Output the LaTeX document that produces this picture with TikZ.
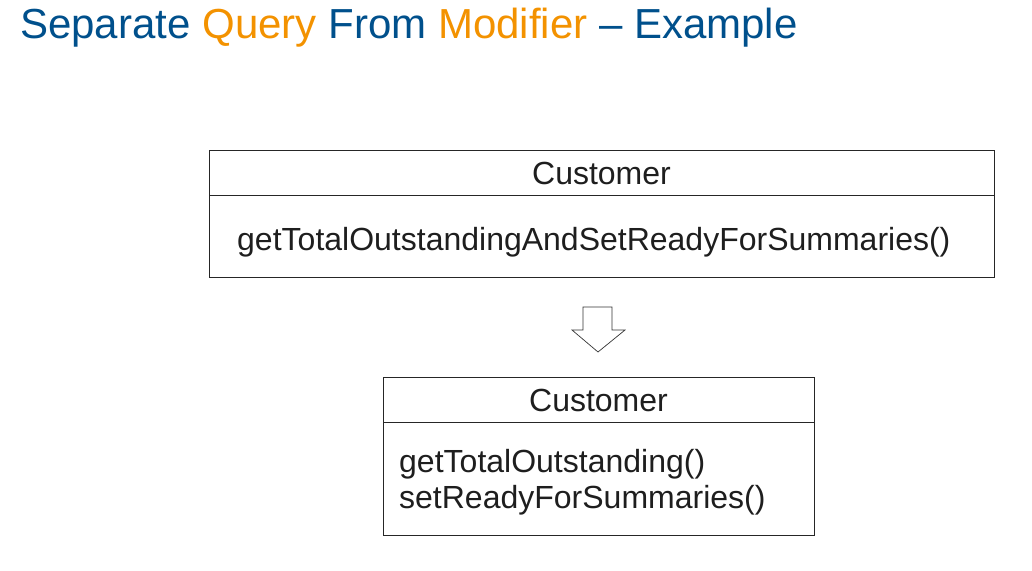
\documentclass[tikz,border=0pt]{standalone}
\usepackage{fontspec}
\setmainfont{Liberation Sans}
\definecolor{tblue}{RGB}{0,80,140}
\definecolor{torange}{RGB}{243,146,0}
\definecolor{txt}{RGB}{30,30,30}
\begin{document}
\begin{tikzpicture}[x=1pt,y=-1pt,
  box/.style={draw=black!85,line width=0.8pt},
  lbl/.style={inner sep=0pt,text=txt,font=\fontsize{32}{36}\selectfont}]
\useasboundingbox (0,0) rectangle (1032,570);
\node[anchor=base west,inner sep=0pt,font=\fontsize{42}{48}\selectfont,text=tblue] (title) at (20,38)
 {Separate\ \textcolor{torange}{Query}\ From\ \textcolor{torange}{Modifier}\ – Example};
% box 1
\draw[box] (209,150) rectangle (994,277);
\draw[box] (209,195) -- (994,195);
\node[lbl,anchor=base] (c1) at (601.5,184) {Customer};
\node[lbl,anchor=base west] (m1) at (237,250) {getTotalOutstandingAndSetReadyForSummaries()};
% arrow
\draw[line width=0.7pt,black!80] (583,307) coordinate (a1) -- (612,307) -- (612,330) -- (625,330) -- (598,352) coordinate (tip) -- (572,330) -- (583,330) -- cycle;
% box 2
\draw[box] (383,377) rectangle (814,535);
\draw[box] (383,422) -- (814,422);
\node[lbl,anchor=base] (c2) at (598.5,411) {Customer};
\node[lbl,anchor=base west] (m2) at (399,472) {getTotalOutstanding()};
\node[lbl,anchor=base west] (m3) at (399,508) {setReadyForSummaries()};
\end{tikzpicture}
\end{document}
